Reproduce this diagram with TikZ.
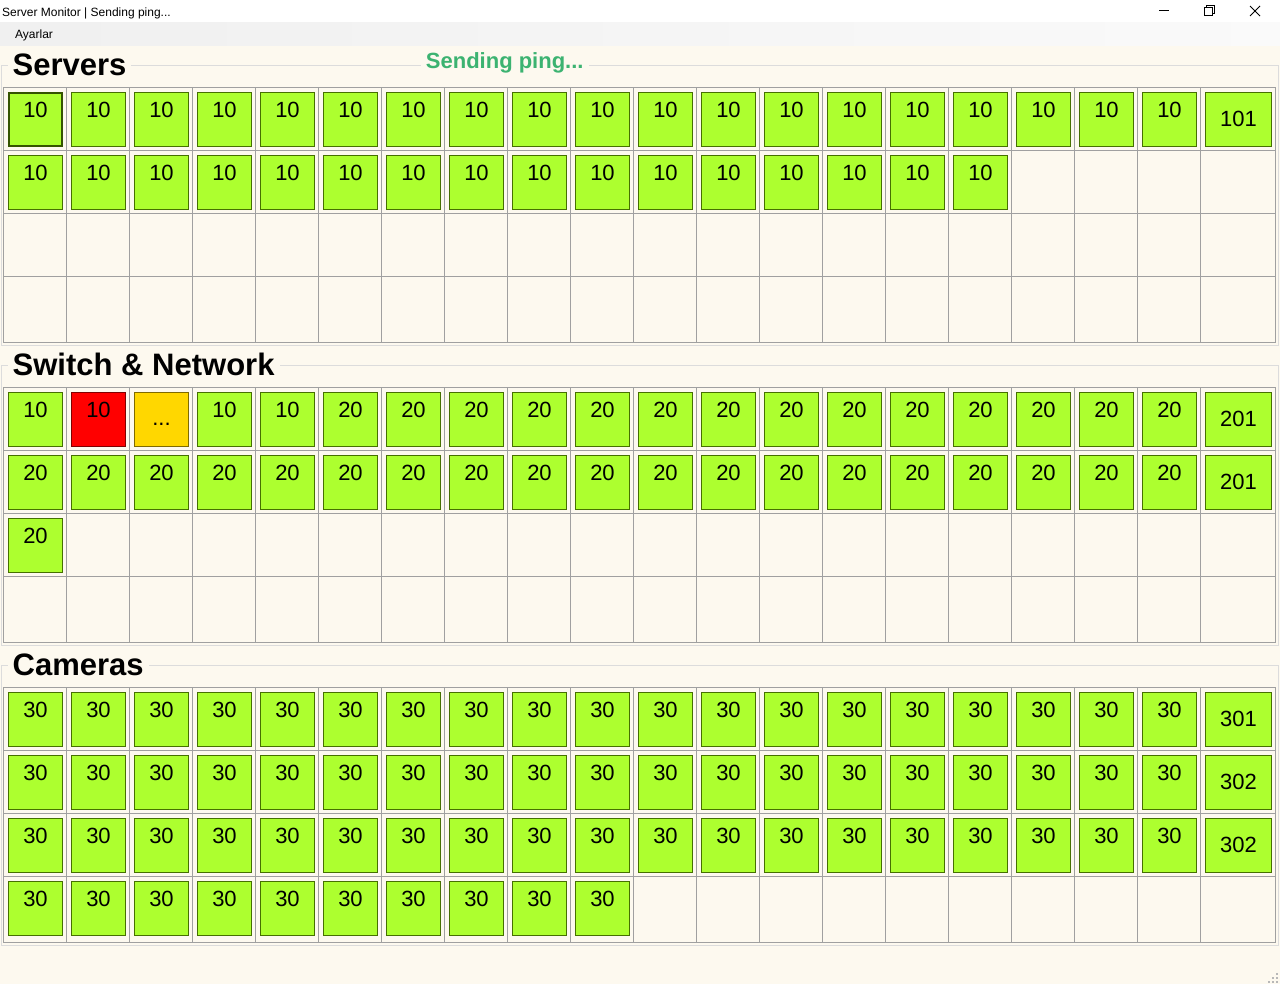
\documentclass[tikz,border=0pt]{standalone}
\usepackage{fontspec}
\setmainfont{Liberation Sans}
\usetikzlibrary{matrix}

\definecolor{formbg}{HTML}{FDF9EF}
\definecolor{btngreen}{HTML}{ADFF2F}
\definecolor{btnedge}{HTML}{467000}
\definecolor{gridgray}{HTML}{A0A0A0}
\definecolor{boxgray}{HTML}{DCDCDC}
\definecolor{pinggreen}{HTML}{3CB371}
\definecolor{downedge}{HTML}{800000}
\definecolor{waitfill}{HTML}{FFD700}
\definecolor{waitedge}{HTML}{7F6A00}
\definecolor{gripgray}{HTML}{B8B8B8}

\newcommand{\cellfont}{\fontsize{22}{26}\selectfont}
\newcommand{\headfont}{\fontsize{31}{36}\selectfont\bfseries}
\newcommand{\smallui}{\fontsize{12}{14}\selectfont}

\tikzset{
  btn/.style={draw=btnedge, fill=btngreen, line width=1pt, inner sep=0pt, outer sep=0pt,
              minimum width=54pt, minimum height=54pt, anchor=center,
              text height=24.8pt, text depth=29.2pt, font=\cellfont},
  sumbtn/.style={btn, minimum width=66pt, text height=34pt, text depth=20pt},
  focusbtn/.style={line width=2pt, draw=btnedge!75!black, minimum width=53pt, minimum height=53pt,
                   text height=24.3pt, text depth=28.7pt},
  downbtn/.style={fill=red, draw=downedge},
  waitbtn/.style={fill=waitfill, draw=waitedge, text height=32.5pt, text depth=21.5pt},
  gridline/.style={draw=gridgray, line width=1pt},
  groupline/.style={draw=boxgray, line width=1pt},
  grouptitle/.style={anchor=base west, fill=formbg, inner xsep=5pt, inner ysep=2pt, font=\headfont},
  btngrid/.style={matrix of nodes, anchor=north west, inner sep=0pt, outer sep=0pt,
                  column sep=8pt, row sep=8pt,
                  nodes={btn}, column 20/.style={nodes={sumbtn}}},
  winglyph/.style={draw=black, line width=1pt}
}

\begin{document}
\begin{tikzpicture}[x=1pt, y=-1pt]
    \useasboundingbox (0,0) rectangle (1280,984);
    \fill[formbg] (0,0) rectangle (1280,984);

    % window title bar and menu
    \fill[white] (0,0) rectangle (1280,23);
    \shade[left color=black!6, right color=black!2] (0,23) rectangle (1280,46);
    \node (wintitle) [anchor=base west, inner sep=0pt, font=\smallui] at (2,16.3) {Server Monitor | Sending ping...};
    \node (menu) [anchor=base west, inner sep=0pt, font=\smallui] at (15,38.5) {Ayarlar};
    \draw [winglyph] (1159,11) -- (1169,11);
    \draw [winglyph] (1204,7.5) rectangle (1212,15.5);
    \draw [winglyph] (1206,7.5) -- (1206,5.5) -- (1214,5.5) -- (1214,13.5) -- (1212,13.5);
    \draw [winglyph] (1250,6) -- (1260,16) (1250,16) -- (1260,6);

    % group boxes and their grids
    \foreach \g in {0,1,2} {
      \begin{scope}[shift={(0,300*\g)}]
        \draw [groupline] (1.5,65.5) rectangle (1278.5,345.5);
        \draw [gridline] (3.5,87.5) rectangle (1275.5,342.5);
        \foreach \i in {1,...,19}
          \draw [gridline] ({3.5+63*\i},87.5) -- ({3.5+63*\i},342.5);
        \foreach \r in {1,2,3}
          \draw [gridline] (3.5,{87.5+63*\r}) -- (1275.5,{87.5+63*\r});
      \end{scope}
    }

    \node (servers) [grouptitle] at (7.5,75.3) {Servers};
    \node (switches) [grouptitle] at (7.5,375.3) {Switch \& Network};
    \node (cameras) [grouptitle] at (7.5,675.3) {Cameras};
    \node (ping) [grouptitle, font=\cellfont\bfseries, text=pinggreen] at (420.7,68.3) {Sending ping...};

    \matrix (srv) [btngrid] at (8,92) {
      |[focusbtn]| 10 & 10 & 10 & 10 & 10 & 10 & 10 & 10 & 10 & 10 &
      10 & 10 & 10 & 10 & 10 & 10 & 10 & 10 & 10 & 101 \\
      10 & 10 & 10 & 10 & 10 & 10 & 10 & 10 & 10 & 10 &
      10 & 10 & 10 & 10 & 10 & 10 \\
    };

    \matrix (sw) [btngrid] at (8,392) {
      10 & |[downbtn]| 10 & |[waitbtn]| ... & 10 & 10 & 20 & 20 & 20 & 20 & 20 &
      20 & 20 & 20 & 20 & 20 & 20 & 20 & 20 & 20 & 201 \\
      20 & 20 & 20 & 20 & 20 & 20 & 20 & 20 & 20 & 20 &
      20 & 20 & 20 & 20 & 20 & 20 & 20 & 20 & 20 & 201 \\
      20 \\
    };

    \matrix (cam) [btngrid] at (8,692) {
      30 & 30 & 30 & 30 & 30 & 30 & 30 & 30 & 30 & 30 &
      30 & 30 & 30 & 30 & 30 & 30 & 30 & 30 & 30 & 301 \\
      30 & 30 & 30 & 30 & 30 & 30 & 30 & 30 & 30 & 30 &
      30 & 30 & 30 & 30 & 30 & 30 & 30 & 30 & 30 & 302 \\
      30 & 30 & 30 & 30 & 30 & 30 & 30 & 30 & 30 & 30 &
      30 & 30 & 30 & 30 & 30 & 30 & 30 & 30 & 30 & 302 \\
      30 & 30 & 30 & 30 & 30 & 30 & 30 & 30 & 30 & 30 \\
    };

    % size grip
    \foreach \gx/\gy in {1276/973, 1272/977, 1276/977, 1268/981, 1272/981, 1276/981}
      \fill[gripgray] (\gx,\gy) rectangle ++(2,2);
  \end{tikzpicture}
\end{document}
